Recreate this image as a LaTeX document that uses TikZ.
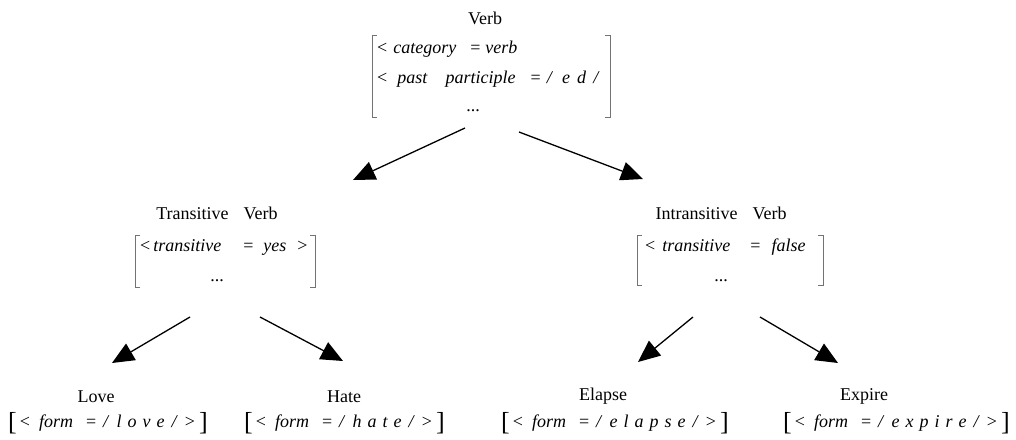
\documentclass[tikz,border=0pt]{standalone}
\usepackage{fontspec}
\setmainfont{Liberation Serif}
\usetikzlibrary{arrows.meta}
\newcommand{\ls}{\hspace{6pt}}
\newcommand{\bigL}{\raisebox{-3.5pt}{\fontsize{26}{26}\selectfont[}}
\newcommand{\bigR}{\raisebox{-3.5pt}{\fontsize{26}{26}\selectfont]}}
\newcommand{\formrow}[1]{\bigL\hspace{3pt}<\hspace{9pt}\textit{form}\hspace{13pt}=\hspace{7pt}\textit{/}\hspace{7pt}\textit{#1}\hspace{7pt}\textit{/}\hspace{7pt}>\hspace{4pt}\bigR}
\begin{document}
\begin{tikzpicture}[x=1pt,y=-1pt,
  txt/.style={inner sep=0pt,font=\fontsize{18}{20}\selectfont},
  row/.style={txt,anchor=base west},
  lbl/.style={txt,anchor=base},
  brk/.style={draw=black!55,line width=0.7pt},
  arr/.style={line width=1.3pt,-{Triangle[length=22pt,width=19pt]}}]
\path[use as bounding box] (0,0) rectangle (1016,439);

% ---------- top: Verb ----------
\node[lbl] (verb) at (485,24) {Verb};
\draw[brk] (377,35) -- (372,35) -- (372,117) -- (377,117);
\draw[brk] (605,35) -- (610,35) -- (610,117) -- (605,117);
\node[row] (vr1) at (377,53) {<\hspace{6pt}\textit{category}\hspace{14pt}=\hspace{5pt}\textit{verb}};
\node[row] (vr2) at (377,83) {<\hspace{10pt}\textit{past}\hspace{18pt}\textit{participle}\hspace{15pt}=\hspace{6pt}\textit{/}\hspace{9pt}\textit{e}\hspace{7pt}\textit{d}\hspace{7pt}\textit{/}};
\node[lbl] (vdots) at (473,111) {...};

% ---------- Transitive Verb ----------
\node[lbl] (tv) at (217,219) {Transitive\hspace{15pt}Verb};
\draw[brk] (140,235) -- (135,235) -- (135,287) -- (140,287);
\draw[brk] (310,235) -- (315,235) -- (315,287) -- (310,287);
\node[row] (tvr1) at (140,251) {<\hspace{3pt}\textit{transitive}\hspace{22pt}=\hspace{10pt}\textit{yes}\hspace{11pt}>};
\node[lbl] (tvdots) at (217,281) {...};

% ---------- Intransitive Verb ----------
\node[lbl] (iv) at (721,219) {Intransitive\hspace{15pt}Verb};
\draw[brk] (642,235) -- (637,235) -- (637,285) -- (642,285);
\draw[brk] (818,235) -- (823,235) -- (823,285) -- (818,285);
\node[row] (ivr1) at (645,251) {<\hspace{7pt}\textit{transitive}\hspace{20pt}=\hspace{11pt}\textit{false}};
\node[lbl] (ivdots) at (721,281) {...};

% ---------- leaves ----------
\node[lbl] (love) at (96,402) {Love};
\node[row] (lover) at (8,427) {\formrow{l\ls o\ls v\ls e}};
\node[lbl] (hate) at (344,402) {Hate};
\node[row] (hater) at (244,427) {\formrow{h\ls a\ls t\ls e}};
\node[lbl] (elapse) at (603,400) {Elapse};
\node[row] (elapser) at (501,427) {\formrow{e\ls l\ls a\ls p\ls s\ls e}};
\node[lbl] (expire) at (864,400) {Expire};
\node[row] (expirer) at (783,427) {\formrow{e\ls x\ls p\ls i\ls r\ls e}};

% ---------- arrows ----------
\coordinate (a1s) at (465,128); \coordinate (a1e) at (353,180);
\coordinate (a2s) at (519,132); \coordinate (a2e) at (643,179);
\coordinate (a3s) at (190,317); \coordinate (a3e) at (112,363);
\coordinate (a4s) at (260,317); \coordinate (a4e) at (343,361);
\coordinate (a5s) at (693,317); \coordinate (a5e) at (638,362);
\coordinate (a6s) at (760,317); \coordinate (a6e) at (838,363);
\draw[arr] (a1s) -- (a1e);
\draw[arr] (a2s) -- (a2e);
\draw[arr] (a3s) -- (a3e);
\draw[arr] (a4s) -- (a4e);
\draw[arr] (a5s) -- (a5e);
\draw[arr] (a6s) -- (a6e);
\end{tikzpicture}
\end{document}
